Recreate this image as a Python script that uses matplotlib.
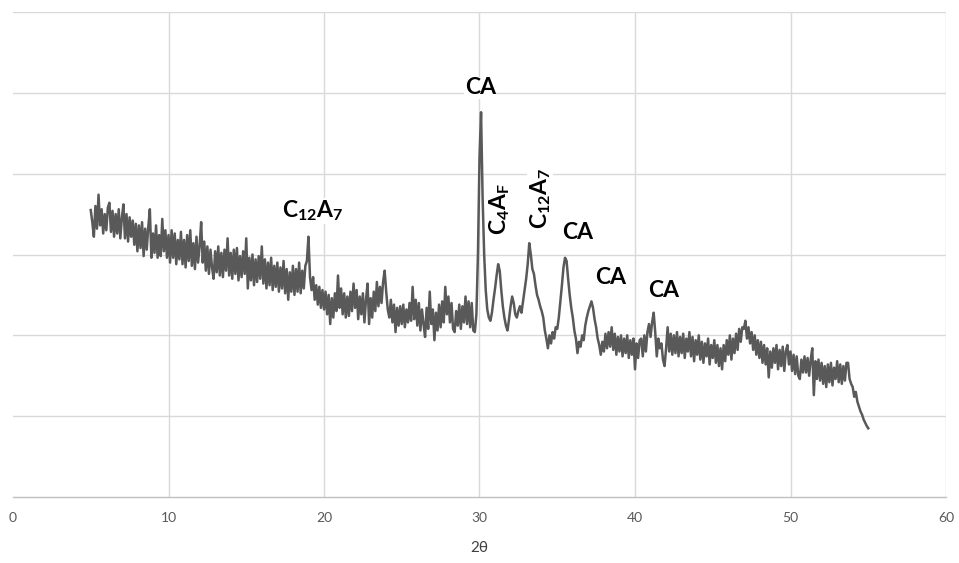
import numpy as np
import matplotlib
matplotlib.use("Agg")
import matplotlib.pyplot as plt

# XRD pattern, 5.0 .. 55.0 deg in 0.1 deg steps
two_theta_start = 5.0
two_theta_step = 0.1
intensity = [
    355, 340, 322, 360, 332, 374, 336, 356, 326, 350,   # 5
    330, 358, 364, 328, 354, 322, 350, 326, 356, 320,   # 6
    345, 362, 320, 350, 316, 346, 322, 342, 312, 338,   # 7
    304, 336, 308, 340, 298, 332, 306, 334, 356, 296,   # 8
    326, 302, 336, 296, 324, 298, 344, 304, 330, 296,   # 9
    324, 290, 330, 296, 326, 288, 318, 294, 328, 288,   # 10
    318, 284, 324, 292, 330, 286, 314, 282, 322, 290,   # 11
    310, 340, 290, 316, 280, 310, 276, 306, 284, 270,   # 12
    304, 278, 310, 274, 302, 272, 306, 280, 320, 274,   # 13
    302, 270, 306, 276, 308, 268, 298, 272, 304, 276,   # 14
    320, 258, 296, 268, 300, 262, 294, 266, 298, 270,   # 15
    310, 264, 294, 258, 290, 262, 296, 256, 286, 260,   # 16
    290, 254, 284, 258, 292, 252, 282, 244, 278, 254,   # 17
    286, 250, 282, 254, 290, 252, 280, 258, 286, 292,   # 18
    322, 272, 256, 272, 244, 262, 238, 260, 234, 256,   # 19
    232, 254, 226, 250, 214, 246, 222, 252, 230, 274,   # 20
    234, 258, 226, 252, 222, 248, 224, 254, 230, 264,   # 21
    234, 256, 220, 248, 226, 252, 216, 244, 264, 214,   # 22
    246, 222, 254, 230, 266, 236, 260, 240, 266, 280,   # 23
    254, 232, 222, 244, 216, 238, 204, 234, 212, 236,   # 24
    214, 238, 210, 232, 216, 240, 218, 260, 220, 244,   # 25
    212, 240, 206, 232, 214, 198, 234, 208, 254, 214,   # 26
    232, 194, 228, 206, 238, 210, 242, 216, 260, 226,   # 27
    248, 216, 240, 208, 204, 230, 212, 238, 208, 236,   # 28
    216, 248, 214, 242, 210, 240, 206, 204, 226, 300,   # 29
    420, 476, 370, 300, 256, 232, 222, 218, 228, 244,   # 30
    258, 274, 288, 280, 256, 236, 222, 212, 206, 220,   # 31
    236, 248, 240, 226, 222, 230, 236, 228, 242, 256,   # 32
    270, 288, 314, 300, 282, 276, 262, 250, 244, 236,   # 33
    230, 222, 206, 196, 184, 200, 190, 204, 196, 210,   # 34
    208, 222, 242, 262, 284, 296, 292, 270, 250, 234,   # 35
    222, 206, 196, 178, 192, 186, 200, 194, 212, 222,   # 36
    230, 236, 242, 234, 220, 210, 196, 188, 176, 192,   # 37
    180, 202, 184, 204, 186, 210, 182, 202, 176, 198,   # 38
    180, 200, 174, 196, 178, 200, 172, 194, 176, 196,   # 39
    158, 190, 172, 194, 196, 174, 200, 180, 204, 214,   # 40
    198, 216, 228, 204, 174, 196, 184, 190, 170, 162,   # 41
    184, 210, 180, 202, 176, 200, 178, 204, 174, 198,   # 42
    178, 202, 172, 196, 180, 204, 174, 198, 168, 194,   # 43
    176, 200, 170, 192, 166, 190, 174, 196, 164, 188,   # 44
    172, 194, 166, 188, 162, 184, 158, 188, 168, 194,   # 45
    176, 200, 170, 196, 178, 202, 182, 208, 192, 210,   # 46
    208, 218, 196, 210, 190, 204, 182, 200, 176, 194,   # 47
    172, 192, 166, 188, 164, 184, 148, 180, 160, 184,   # 48
    166, 188, 158, 182, 162, 186, 156, 180, 188, 164,   # 49
    180, 156, 176, 152, 174, 150, 146, 170, 154, 174,   # 50
    154, 172, 150, 170, 184, 126, 168, 146, 170, 144,   # 51
    166, 140, 162, 136, 164, 142, 166, 138, 160, 146,   # 52
    168, 142, 164, 140, 162, 144, 166, 166, 146, 140,   # 53
    136, 124, 130, 118, 112, 106, 102, 96, 92, 88,      # 54
    85,                                                 # 55
]
two_theta = two_theta_start + two_theta_step * np.arange(len(intensity))

# phase labels: (text, x, y, rotation)
labels = [
    (r"C$_\mathbf{12}$A$_\mathbf{7}$", 19.3, 354, 0),
    ("CA", 30.05, 506, 0),
    (r"C$_\mathbf{4}$A$_\mathbf{F}$", 31.3, 356, 90),
    (r"C$_\mathbf{12}$A$_\mathbf{7}$", 33.9, 370, 90),
    ("CA", 36.3, 327, 0),
    ("CA", 38.45, 272, 0),
    ("CA", 41.85, 256, 0),
]

plt.rcParams["font.family"] = ["Lato", "DejaVu Sans"]
plt.rcParams["mathtext.fontset"] = "custom"
plt.rcParams["mathtext.rm"] = "Lato"
plt.rcParams["mathtext.bf"] = "Lato:bold"

fig = plt.figure(figsize=(9.59, 5.63), dpi=100)
ax = fig.add_axes([13 / 959, 1 - 497 / 563, 933 / 959, 485 / 563])

ax.plot(two_theta, intensity, color="#595959", lw=1.8, zorder=3)

for txt, x, y, rot in labels:
    ax.text(x, y, txt, rotation=rot, ha="center", va="center",
            fontsize=16.5, fontweight="bold", color="black", zorder=4,
            bbox=dict(facecolor="white", edgecolor="none", pad=0.5))

ax.set_xlim(0, 60)
ax.set_ylim(0, 600)
ax.set_xticks(np.arange(0, 61, 10))
ax.set_yticks(np.arange(0, 601, 100))
ax.set_yticklabels([])
ax.tick_params(axis="both", length=0, labelsize=10, labelcolor="#595959")
ax.tick_params(axis="x", pad=11)
ax.grid(True, color="#d9d9d9", lw=1.0, zorder=0)
ax.xaxis.get_gridlines()[0].set_visible(False)
ax.yaxis.get_gridlines()[0].set_visible(False)
for side in ["left", "right", "top"]:
    ax.spines[side].set_visible(False)
ax.spines["bottom"].set_color("#bfbfbf")
ax.spines["bottom"].set_linewidth(1.0)

ax.set_xlabel("2θ", fontsize=11, color="#404040", labelpad=12)

fig.savefig("out.png", dpi=100)
